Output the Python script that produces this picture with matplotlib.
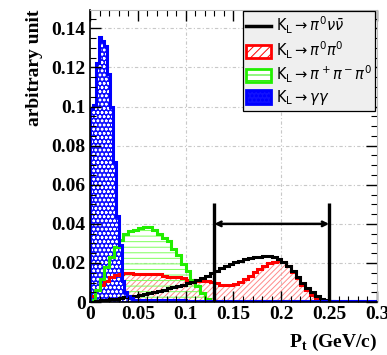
import numpy as np
import matplotlib.pyplot as plt
from matplotlib.lines import Line2D
from matplotlib.patches import Patch

# Pt bins (GeV/c): 0.005 wide for the three-body modes, finer for gamma-gamma
fine_edges = np.round(np.arange(0.0, 0.3001, 0.005), 4)
gg_edges = [0.0, 0.003, 0.006, 0.009, 0.012, 0.015, 0.018, 0.021, 0.024, 0.027,
            0.030, 0.033, 0.036, 0.039, 0.042, 0.045, 0.1, 0.2, 0.3]

# K_L -> pi0 nu nubar
pnn = [0.0003, 0.0006, 0.0009, 0.0012, 0.0015, 0.0018, 0.0021, 0.0025, 0.0029, 0.0033,
       0.0038, 0.0043, 0.0048, 0.0053, 0.0058, 0.0064, 0.0070, 0.0076, 0.0082, 0.0090,
       0.0097, 0.0104, 0.0112, 0.0121, 0.0135, 0.0148, 0.0160, 0.0172, 0.0183, 0.0194,
       0.0203, 0.0211, 0.0219, 0.0224, 0.0229, 0.0233, 0.0236, 0.0236, 0.0231, 0.0221,
       0.0205, 0.0185, 0.0160, 0.0130, 0.0100, 0.0073, 0.0050, 0.0031, 0.0018, 0.0009,
       0.0004, 0.0001, 0.0, 0.0, 0.0, 0.0, 0.0, 0.0, 0.0, 0.0]
# K_L -> pi0 pi0
p0p0 = [0.0030, 0.0060, 0.0090, 0.0110, 0.0130, 0.0140, 0.0145, 0.0147, 0.0147, 0.0146,
        0.0146, 0.0145, 0.0145, 0.0144, 0.0142, 0.0134, 0.0130, 0.0128, 0.0127, 0.0125,
        0.0115, 0.0111, 0.0110, 0.0109, 0.0108, 0.0105, 0.0100, 0.0090, 0.0085, 0.0086,
        0.0092, 0.0102, 0.0116, 0.0133, 0.0152, 0.0170, 0.0186, 0.0198, 0.0207, 0.0212,
        0.0205, 0.0185, 0.0155, 0.0122, 0.0090, 0.0061, 0.0038, 0.0022, 0.0012, 0.0006,
        0.0003, 0.0001, 0.0, 0.0, 0.0, 0.0, 0.0, 0.0, 0.0, 0.0]
# K_L -> pi+ pi- pi0
pcp0 = [0.0010, 0.0060, 0.0120, 0.0180, 0.0230, 0.0280, 0.0320, 0.0350, 0.0365, 0.0370,
        0.0378, 0.0385, 0.0385, 0.0370, 0.0350, 0.0330, 0.0310, 0.0270, 0.0240, 0.0195,
        0.0160, 0.0115, 0.0080, 0.0045, 0.0015, 0.0005, 0.0, 0.0, 0.0, 0.0,
        0.0, 0.0, 0.0, 0.0, 0.0, 0.0, 0.0, 0.0, 0.0, 0.0,
        0.0, 0.0, 0.0, 0.0, 0.0, 0.0, 0.0, 0.0, 0.0, 0.0,
        0.0, 0.0, 0.0, 0.0, 0.0, 0.0, 0.0, 0.0, 0.0, 0.0]
# K_L -> gamma gamma
gg = [0.099, 0.101, 0.1225, 0.1355, 0.1335, 0.131, 0.1165, 0.100, 0.0714,
      0.044, 0.029, 0.011, 0.005, 0.003, 0.002, 0.0009, 0.0007, 0.0007]

# signal region
cut_window = [0.13, 0.25]
cut_top = 0.0506
arrow_y = 0.040

x_ticks = [0.0, 0.05, 0.1, 0.15, 0.2, 0.25, 0.3]
x_labels = ['0', '0.05', '0.1', '0.15', '0.2', '0.25', '0.3']
y_ticks = [0.0, 0.02, 0.04, 0.06, 0.08, 0.1, 0.12, 0.14]
y_labels = ['0', '0.02', '0.04', '0.06', '0.08', '0.1', '0.12', '0.14']

legend_labels = [r'K$_\mathregular{L}$$\rightarrow\pi^0\nu\bar{\nu}$',
                 r'K$_\mathregular{L}$$\rightarrow\pi^0\pi^0$',
                 r'K$_\mathregular{L}$$\rightarrow\pi^+\pi^-\pi^0$',
                 r'K$_\mathregular{L}$$\rightarrow\gamma\gamma$']

plt.rcParams['hatch.linewidth'] = 0.7
serif = 'Liberation Serif'

fig = plt.figure(figsize=(3.87, 3.55), dpi=100)
ax = fig.add_axes([0.2326, 0.149, 0.7414, 0.823])

# hatched fills
ax.stairs(p0p0, fine_edges, fill=True, facecolor='none', edgecolor='#ff8a8a',
          hatch='//////', lw=0)
ax.stairs(pcp0, fine_edges, fill=True, facecolor='none', edgecolor='#7dff5a',
          hatch='---', lw=0)
ax.stairs(gg, gg_edges, fill=True, facecolor='#1010ff', edgecolor='white',
          hatch='oooo', lw=0)
# outlines
ax.stairs(p0p0, fine_edges, color='red', lw=2.2)
ax.stairs(pcp0, fine_edges, color='#22ee00', lw=2.2)
ax.stairs(pnn, fine_edges, color='black', lw=2.2)
ax.stairs(gg, gg_edges, color='#0000ff', lw=2.2)

# cut window
ax.vlines(cut_window, 0, cut_top, colors='black', lw=2.4)
ax.annotate('', xy=(cut_window[0], arrow_y), xytext=(cut_window[1], arrow_y),
            arrowprops=dict(arrowstyle='<->', lw=1.8, color='black',
                            shrinkA=0, shrinkB=0, mutation_scale=8))

ax.set_xlim(0, 0.3)
ax.set_ylim(0, 0.1494)
ax.set_xticks(x_ticks)
ax.set_xticklabels(x_labels)
ax.set_yticks(y_ticks)
ax.set_yticklabels(y_labels)
ax.set_xticks(np.arange(0, 0.301, 0.01), minor=True)
ax.set_yticks(np.arange(0, 0.1494, 0.005), minor=True)
ax.tick_params(which='both', direction='in', top=True, right=True)
ax.tick_params(which='major', length=8, width=1.0, labelsize=14, pad=3)
ax.tick_params(which='minor', length=4, width=0.8)
for lab in ax.get_xticklabels() + ax.get_yticklabels():
    lab.set_fontfamily(serif)
    lab.set_fontweight('bold')

for y in y_ticks[1:]:
    ax.axhline(y, color='#c8c8c8', lw=0.8, ls=(0, (3, 2, 1, 2)), zorder=0)
for x in [0.1, 0.2]:
    ax.axvline(x, color='#c8c8c8', lw=0.8, ls=(0, (3, 2, 1, 2)), zorder=0)

for side in ['top', 'right']:
    ax.spines[side].set_color('#bbbbbb')
    ax.spines[side].set_linewidth(0.8)
ax.spines['left'].set_linewidth(1.2)
ax.spines['bottom'].set_linewidth(1.2)

ax.set_ylabel('arbitrary unit', fontfamily=serif, fontweight='bold',
              fontsize=14, loc='top', labelpad=6)
ax.set_xlabel(r'P$_\mathregular{t}$ (GeV/c)', fontfamily=serif, fontweight='bold',
              fontsize=14, loc='right', labelpad=6)

handles = [Line2D([], [], color='black', lw=2.5),
           Patch(facecolor='white', edgecolor='red', hatch='////', lw=2),
           Patch(facecolor='white', edgecolor='#22ee00', hatch='---', lw=2),
           Patch(facecolor='#1010ff', edgecolor='#0000ff', hatch='oooo', lw=2)]
leg = ax.legend(handles, legend_labels, loc='upper right', fontsize=10.5,
                frameon=True, fancybox=False, framealpha=1, facecolor='#efefef',
                edgecolor='black', borderaxespad=0.1, handlelength=1.7,
                handleheight=1.0, handletextpad=0.3, labelspacing=0.2,
                borderpad=0.25)
leg.get_frame().set_linewidth(0.9)

fig.savefig('out.png', dpi=100)
